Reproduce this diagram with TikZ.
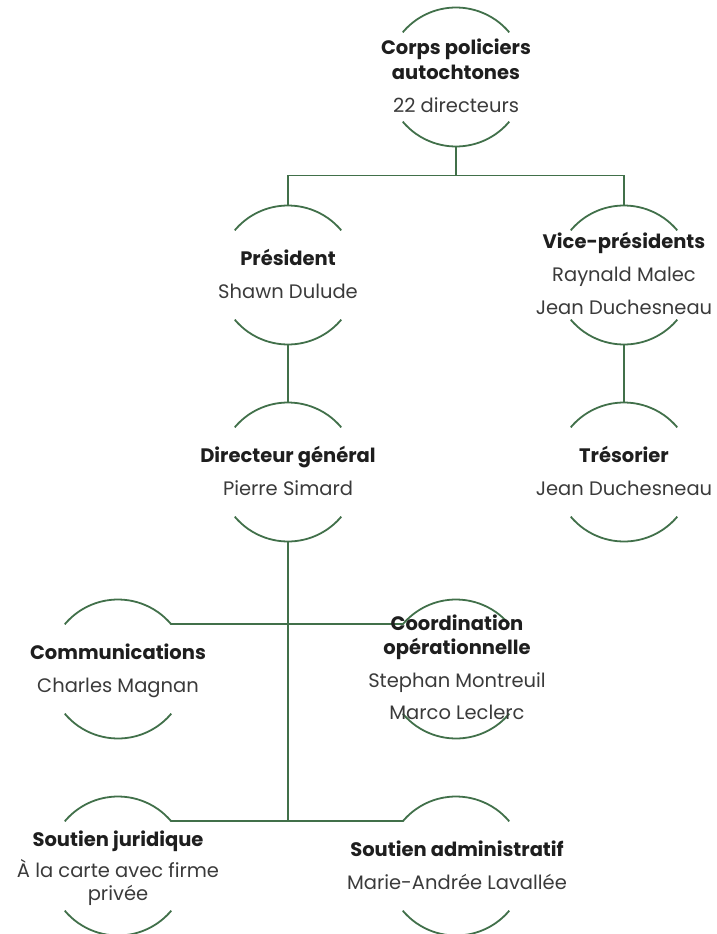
\documentclass[tikz,border=0pt]{standalone}
\usepackage{fontspec}
\setmainfont{Poppins}
\definecolor{lg}{HTML}{41704A}
\definecolor{headc}{HTML}{1E1E1E}
\definecolor{namec}{HTML}{3A3A3A}
\tikzset{
  ring/.style={circle, minimum size=139pt, inner sep=0pt, outer sep=0pt, draw=none},
  arcline/.style={draw=lg, line width=1.8pt},
  link/.style={draw=lg, line width=1.8pt},
  headtxt/.style={anchor=base, inner sep=0pt, text=headc, font=\fontsize{19.5}{22}\selectfont\bfseries},
  nametxt/.style={anchor=base, inner sep=0pt, text=namec, font=\fontsize{19.5}{22}\selectfont},
}
\newcommand\ringarcs[1]{%
  \draw[arcline] (#1.40) arc[start angle=40, end angle=140, radius=69.5pt];
  \draw[arcline] (#1.220) arc[start angle=220, end angle=320, radius=69.5pt];}
\begin{document}
\begin{tikzpicture}[x=1pt, y=1pt]
\useasboundingbox (0,0) rectangle (717,-934);
% rings
\node[ring] (top) at (456,-77) {};
\node[ring] (pres) at (288,-275) {};
\node[ring] (vp) at (624,-275) {};
\node[ring] (dg) at (288,-472) {};
\node[ring] (tres) at (624,-472) {};
\node[ring] (comm) at (118,-669) {};
\node[ring] (coord) at (456,-669) {};
\node[ring] (sj) at (118,-866) {};
\node[ring] (sa) at (456,-866) {};
\ringarcs{top}\ringarcs{pres}\ringarcs{vp}\ringarcs{dg}\ringarcs{tres}
\ringarcs{comm}\ringarcs{coord}\ringarcs{sj}\ringarcs{sa}
% connectors
\path (top.south) ++(0,-29) coordinate (j1);
\draw[link] (top.south) -- (j1);
\draw[link] (pres.north) |- (j1) -| (vp.north);
\draw[link] (pres.south) -- (dg.north);
\draw[link] (vp.south) -- (tres.north);
\draw[link] (dg.south) -- (dg.south |- sj.40);
\draw[link] (comm.40) -- (coord.140);
\draw[link] (sj.40) -- (sa.140);
% texts
\node[headtxt] (toph1) at (456,-55) {Corps policiers};
\node[headtxt] (toph2) at (456,-79) {autochtones};
\node[nametxt] (topn1) at (456,-112) {22 directeurs};
\node[headtxt] (presh) at (288,-265) {Président};
\node[nametxt] (presn) at (288,-298) {Shawn Dulude};
\node[headtxt] (vph) at (624,-248) {Vice-présidents};
\node[nametxt] (vpn1) at (624,-281) {Raynald Malec};
\node[nametxt] (vpn2) at (624,-314) {Jean Duchesneau};
\node[headtxt] (dgh) at (288,-462) {Directeur général};
\node[nametxt] (dgn) at (288,-495) {Pierre Simard};
\node[headtxt] (tresh) at (624,-462) {Trésorier};
\node[nametxt] (tresn) at (624,-495) {Jean Duchesneau};
\node[headtxt] (commh) at (118,-659) {Communications};
\node[nametxt] (commn) at (118,-692) {Charles Magnan};
\node[headtxt] (coordh1) at (457,-630) {Coordination};
\node[headtxt] (coordh2) at (457,-654) {opérationnelle};
\node[nametxt] (coordn1) at (457,-687) {Stephan Montreuil};
\node[nametxt] (coordn2) at (457,-719) {Marco Leclerc};
\node[headtxt] (sjh) at (118,-846) {Soutien juridique};
\node[nametxt] (sjn1) at (118,-877) {À la carte avec firme};
\node[nametxt] (sjn2) at (118,-900) {privée};
\node[headtxt] (sah) at (457,-856) {Soutien administratif};
\node[nametxt] (san) at (457,-889) {Marie-Andrée Lavallée};
\end{tikzpicture}
\end{document}
